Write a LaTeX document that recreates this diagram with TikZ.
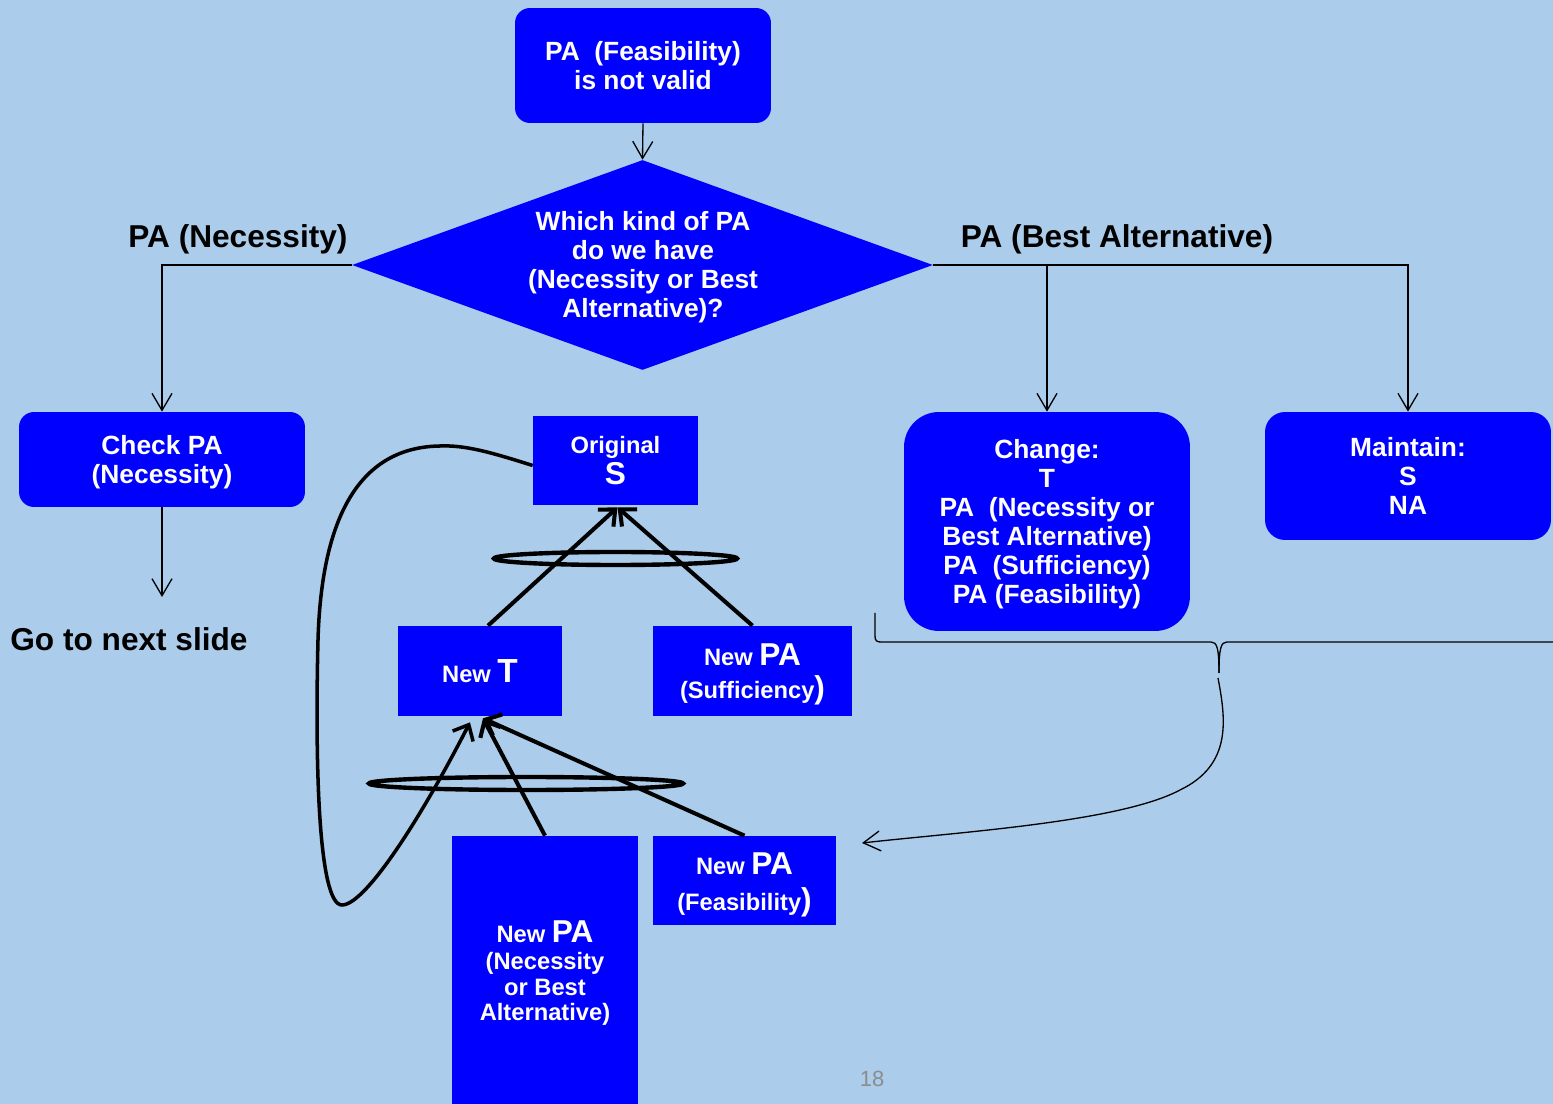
\documentclass[tikz,border=0pt]{standalone}
\usepackage{fontspec}
\setmainfont{Liberation Sans}
\usetikzlibrary{arrows.meta,shapes.geometric,calc}
\definecolor{bg}{RGB}{171,204,234}
\definecolor{boxblue}{RGB}{0,0,255}
\definecolor{pagegray}{RGB}{140,140,140}
\newcommand\bigsz{\fontsize{18}{18}\selectfont}
\begin{document}
\begin{tikzpicture}[x=0.02cm,y=-0.02cm,
  every node/.style={inner sep=0pt, align=center},
  flowbox/.style={fill=boxblue, text=white, rounded corners=0.3cm,
    font=\fontsize{15}{16.5}\selectfont\bfseries},
  plainbox/.style={fill=boxblue, text=white,
    font=\fontsize{13.5}{14.5}\selectfont\bfseries},
  thin arrow/.style={draw=black, line width=0.75pt,
    -{Straight Barb[length=0.34cm,width=0.4cm]}},
  thick arrow/.style={draw=black, line width=2.3pt,
    -{Straight Barb[length=0.26cm,width=0.46cm]}},
  ring/.style={draw=black, line width=2.5pt},
  thin line/.style={draw=black, line width=0.75pt},
  branch label/.style={text=black, font=\fontsize{18}{20}\selectfont\bfseries}]

\fill[bg] (0,0) rectangle (1553,1104);
\useasboundingbox (0,0) rectangle (1553,1104);

% decision flow
\node[flowbox, minimum width=5.12cm, minimum height=2.3cm] (start) at (643,65.5)
  {PA~~(Feasibility)\\is not valid};
\node[diamond, fill=boxblue, minimum width=11.62cm, minimum height=4.2cm] (q) at (642.5,265) {};
\node[text=white, font=\fontsize{15}{16.5}\selectfont\bfseries] (qtext) at (643,267)
  {Which kind of PA\\do we have\\(Necessity or Best\\Alternative)?};
\node[flowbox, minimum width=5.72cm, minimum height=1.9cm] (check) at (162,459.5)
  {\rule{0pt}{14pt}Check PA\\(Necessity)};
\node[flowbox, rounded corners=0.7cm, minimum width=5.72cm, minimum height=4.38cm] (change) at (1047,521.5)
  {\rule{0pt}{14pt}Change:\\T\\PA~~(Necessity or\\Best Alternative)\\PA~~(Sufficiency)\\PA (Feasibility)};
\node[flowbox, rounded corners=0.4cm, minimum width=5.72cm, minimum height=2.56cm] (keep) at (1408,476)
  {Maintain:\\S\\NA};

\node[branch label] (lneed) at (238,239) {PA (Necessity)};
\node[branch label] (lbest) at (1117,239) {PA (Best Alternative)};
\node[branch label, anchor=west] (next) at (10,639) {Go to next slide};
\coordinate (nextpt) at (162,597);

\draw[thin arrow] (start.south) -- (q.north);
\draw[thin arrow] (q.west) -| (check.north);
\draw[thin arrow] (q.east) -| (keep.north);
\draw[thin arrow] (q.east -| change.north) -- (change.north);
\draw[thin arrow] (check.south) -- (nextpt);

% structure of the argument
\node[plainbox, minimum width=3.3cm, minimum height=1.78cm] (orig) at (615.5,460.5)
  {Original\\[1pt]{\bigsz S}};
\node[plainbox, minimum width=3.28cm, minimum height=1.8cm] (newt) at (480,671)
  {New {\fontsize{19}{19}\selectfont T}};
\node[plainbox, minimum width=3.98cm, minimum height=1.8cm] (newsuff) at (752.5,671)
  {\rule{0pt}{16.3pt}New {\bigsz PA}\\[4.5pt](Sufficiency{\bigsz )}};
\node[plainbox, minimum width=3.72cm, minimum height=5.36cm] (newnec) at (545,970)
  {\rule{0pt}{16.3pt}New {\bigsz PA}\\[1pt](Necessity\\or Best\\Alternative)};
\node[plainbox, minimum width=3.66cm, minimum height=1.78cm] (newfeas) at (744.5,880.5)
  {\rule{0pt}{17.4pt}New {\bigsz PA}\\[6pt](Feasibility{\bigsz )}};

\draw[thick arrow] ($(newt.north)+(8,0)$) -- ($(orig.south)+(2,2)$);
\draw[thick arrow] (newsuff.north) -- ($(orig.south)+(2,2)$);
\draw[thick arrow] (newnec.north) -- ($(newt.south)+(3,2)$);
\draw[thick arrow] (newfeas.north) -- ($(newt.south)+(3,2)$);
\draw[thick arrow, line width=2pt] ($(orig.west)+(0,5)$)
  .. controls (490,452) and (465,445) .. (440,446)
  .. controls (370,447) and (322,500) .. (318,640)
  .. controls (315,760) and (318,905) .. (342,905)
  .. controls (365,905) and (420,820) .. ($(newt.south)+(-10,6)$);

\draw[ring] (615.5,558.5) ellipse [x radius=2.43cm, y radius=0.13cm];
\draw[ring] (526,783.5) ellipse [x radius=3.14cm, y radius=0.13cm];

% brace gathering the changed items
\coordinate (bleft) at (875,613);
\coordinate (bright) at (1553,642);
\coordinate (btip) at (1219,673);
\coordinate (bfrom) at (1218,678);
\coordinate (bto) at (862,843);
\draw[thin line] (bleft) -- (875,636) .. controls (875,641) and (877,642) .. (881,642)
  -- (1211,642) .. controls (1217,642) and (1219,648) .. (btip);
\draw[thin line] (bright) -- (1227,642) .. controls (1221,642) and (1219,648) .. (btip);
\draw[thin arrow] (bfrom) .. controls (1226,720) and (1232,765) .. (1180,790)
  .. controls (1120,822) and (960,832) .. (bto);

\node[text=pagegray, font=\fontsize{12.5}{14}\selectfont] (pg) at (872,1079) {18};
\end{tikzpicture}
\end{document}
